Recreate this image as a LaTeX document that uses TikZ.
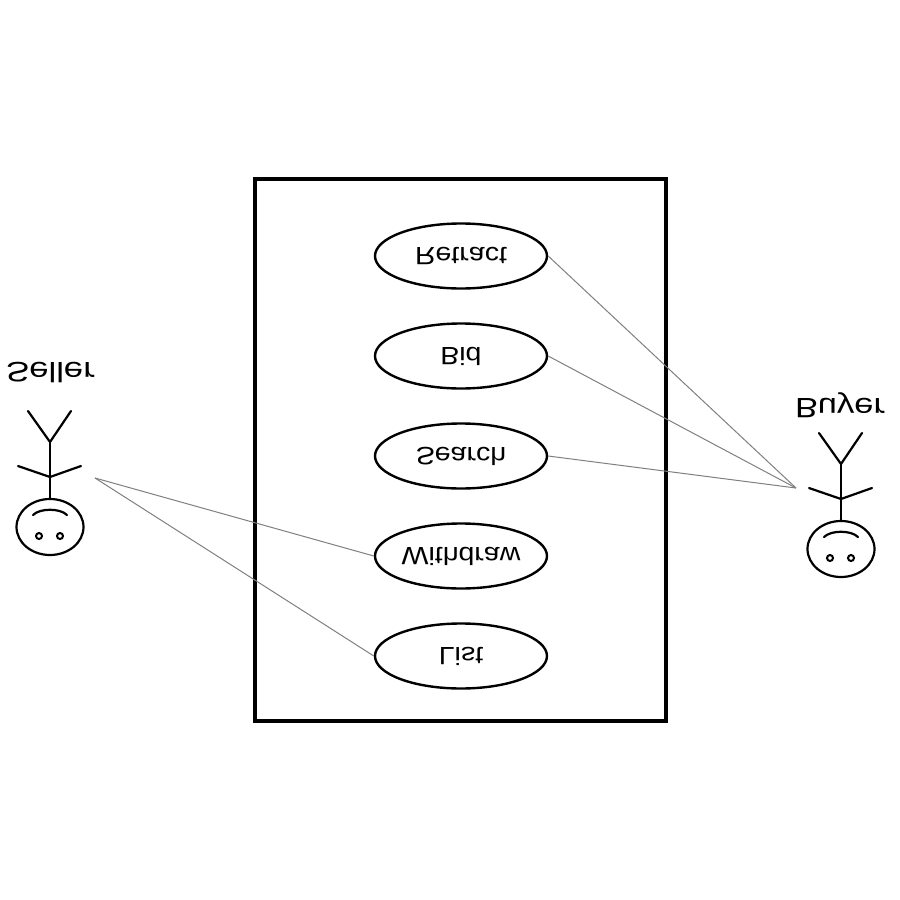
\documentclass[tikz,border=0pt]{standalone}
\usepackage{graphicx}
\usepackage{fontspec}
\setmainfont{Liberation Sans}
\usetikzlibrary{shapes.geometric}
\newcommand{\fliptext}[2]{\scalebox{#1}[-1]{#2}}
\tikzset{
  usecase/.style={ellipse, draw=black, line width=2.4pt, minimum width=172pt, minimum height=65pt, inner sep=0pt, font=\fontsize{25}{25}\selectfont, text=black},
  actorlabel/.style={inner sep=0pt, font=\fontsize{28}{28}\selectfont, text=black},
  link/.style={draw=black!50, line width=1pt},
  stroke/.style={draw=black, line width=2.2pt, line cap=round},
  actor/.pic={
    \draw[stroke] (50,442) -- (50,499);
    \draw[stroke] (18,466) -- (50,477) -- (81,466);
    \draw[stroke] (28,411) -- (50,442) -- (71,411);
    \draw[stroke] (50,527) ellipse [x radius=33.5, y radius=28];
    \draw[stroke] (33,515) .. controls (40,508) and (60,508) .. (67,515);
    \draw[stroke, line width=2pt] (39,536) circle [radius=3];
    \draw[stroke, line width=2pt] (60,536) circle [radius=3];
  }
}
\begin{document}
\begin{tikzpicture}[x=1pt,y=-1pt]
\useasboundingbox (0,0) rectangle (900,900);
\fill[white] (0,0) rectangle (900,900);
\node[draw=black, line width=3.2pt, minimum width=411pt, minimum height=542pt, inner sep=0pt] (system) at (460.5,450) {};
\node[usecase] (retract) at (461,256) {\fliptext{1.14}{Retract}};
\node[usecase] (bid) at (461,356) {\fliptext{1.14}{Bid}};
\node[usecase] (search) at (461,456) {\fliptext{1.14}{Search}};
\node[usecase] (withdraw) at (461,556) {\fliptext{1.14}{Withdraw}};
\node[usecase] (list) at (461,656) {\fliptext{1.14}{List}};
\node[actorlabel] (seller) at (50.5,373) {\fliptext{1.24}{Seller}};
\node[actorlabel] (buyer) at (840,405) {\fliptext{1.23}{Buyer}};
\pic at (0,0) {actor};
\pic at (791,22) {actor};
\coordinate (sellerhand) at (95,478);
\coordinate (buyerhand) at (796,488);
\draw[link] (sellerhand) -- (withdraw.west);
\draw[link] (sellerhand) -- (list.west);
\draw[link] (retract.east) -- (buyerhand);
\draw[link] (bid.east) -- (buyerhand);
\draw[link] (search.east) -- (buyerhand);
\end{tikzpicture}
\end{document}
